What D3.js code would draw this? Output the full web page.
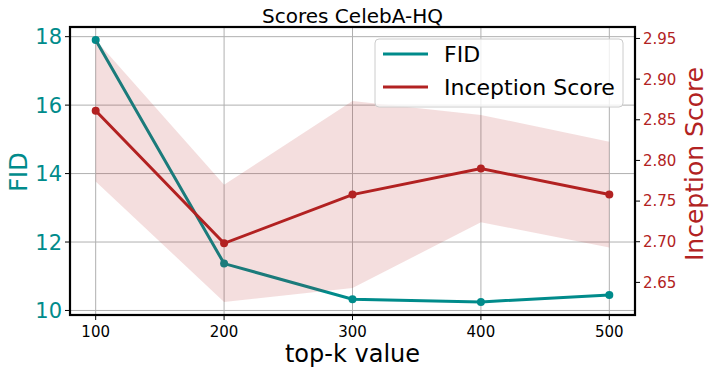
<!DOCTYPE html>
<html lang="en">
<head>
<meta charset="UTF-8">
<title>Scores CelebA-HQ</title>
<script src="https://cdn.jsdelivr.net/npm/d3@7"></script>
<style>
body { margin: 0; background: #fff; font-family: 'DejaVu Sans', sans-serif; }
svg text { font-family: 'DejaVu Sans', sans-serif; }
</style>
</head>
<body>
<svg id="chart" width="712" height="373"></svg>
<script>
// data
const topK = [100, 200, 300, 400, 500];
const fid = [17.9, 11.37, 10.33, 10.25, 10.45];
const inception = [2.861, 2.698, 2.758, 2.790, 2.758];
const inceptionStd = [0.087, 0.072, 0.115, 0.066, 0.065];
const xTicks = [100, 200, 300, 400, 500];
const fidTicks = [10, 12, 14, 16, 18];
const isTicks = [2.65, 2.70, 2.75, 2.80, 2.85, 2.90, 2.95];

const teal = "#008b8b";
const red = "#b22222";

const m = { left: 70, right: 635, top: 27, bottom: 315 };

const svg = d3.select("#chart");

// matplotlib-like 5% padding
function padded(lo, hi) {
    const d = (hi - lo) * 0.05;
    return [lo - d, hi + d];
}

const x = d3.scaleLinear().domain(padded(100, 500)).range([m.left, m.right]);
const yL = d3.scaleLinear().domain(padded(d3.min(fid), d3.max(fid))).range([m.bottom, m.top]);
const bandLo = inception.map((v, i) => v - inceptionStd[i]);
const bandHi = inception.map((v, i) => v + inceptionStd[i]);
const yR = d3.scaleLinear().domain(padded(d3.min(bandLo), d3.max(bandHi))).range([m.bottom, m.top]);

// grid
const grid = svg.append("g").attr("stroke", "#b0b0b0").attr("stroke-width", 1);
xTicks.forEach(t => grid.append("line")
    .attr("x1", x(t)).attr("x2", x(t)).attr("y1", m.top).attr("y2", m.bottom));
fidTicks.forEach(t => grid.append("line")
    .attr("x1", m.left).attr("x2", m.right).attr("y1", yL(t)).attr("y2", yL(t)));

// FID line
const fidLine = d3.line().x((d, i) => x(topK[i])).y(d => yL(d));
svg.append("path").datum(fid)
    .attr("d", fidLine).attr("fill", "none")
    .attr("stroke", teal).attr("stroke-width", 3);
svg.selectAll(".fidpt").data(fid).enter().append("circle")
    .attr("cx", (d, i) => x(topK[i])).attr("cy", d => yL(d))
    .attr("r", 4).attr("fill", teal);

// IS line
const isLine = d3.line().x((d, i) => x(topK[i])).y(d => yR(d));
svg.append("path").datum(inception)
    .attr("d", isLine).attr("fill", "none")
    .attr("stroke", red).attr("stroke-width", 3);
svg.selectAll(".ispt").data(inception).enter().append("circle")
    .attr("cx", (d, i) => x(topK[i])).attr("cy", d => yR(d))
    .attr("r", 4).attr("fill", red);

// std band
const band = d3.area()
    .x((d, i) => x(topK[i]))
    .y0((d, i) => yR(bandLo[i]))
    .y1((d, i) => yR(bandHi[i]));
svg.append("path").datum(inception)
    .attr("d", band).attr("fill", red).attr("fill-opacity", 0.15);

// spines
svg.append("rect")
    .attr("x", m.left).attr("y", m.top)
    .attr("width", m.right - m.left).attr("height", m.bottom - m.top)
    .attr("fill", "none").attr("stroke", "#000").attr("stroke-width", 2.2);

// x axis
const xAxis = svg.append("g");
xTicks.forEach(t => {
    xAxis.append("line").attr("x1", x(t)).attr("x2", x(t))
        .attr("y1", m.bottom).attr("y2", m.bottom + 5).attr("stroke", "#000");
    xAxis.append("text").attr("x", x(t)).attr("y", 337)
        .attr("text-anchor", "middle").attr("font-size", 15).attr("fill", "#000").text(t);
});
svg.append("text").attr("x", (m.left + m.right) / 2).attr("y", 362)
    .attr("text-anchor", "middle").attr("font-size", 24).text("top-k value");

// left axis
const lAxis = svg.append("g");
fidTicks.forEach(t => {
    lAxis.append("line").attr("x1", m.left - 5).attr("x2", m.left)
        .attr("y1", yL(t)).attr("y2", yL(t)).attr("stroke", "#000");
    lAxis.append("text").attr("x", 62).attr("y", yL(t)).attr("dy", "0.36em")
        .attr("text-anchor", "end").attr("font-size", 21).attr("fill", teal).text(t);
});
svg.append("text").attr("transform", "translate(27,172) rotate(-90)")
    .attr("text-anchor", "middle").attr("font-size", 24).attr("fill", teal).text("FID");

// right axis
const rAxis = svg.append("g");
isTicks.forEach(t => {
    rAxis.append("line").attr("x1", m.right).attr("x2", m.right + 5)
        .attr("y1", yR(t)).attr("y2", yR(t)).attr("stroke", "#000");
    rAxis.append("text").attr("x", 643).attr("y", yR(t)).attr("dy", "0.36em")
        .attr("font-size", 15).attr("fill", red).text(d3.format(".2f")(t));
});
svg.append("text").attr("transform", "translate(703,164) rotate(-90)")
    .attr("text-anchor", "middle").attr("font-size", 25).attr("fill", red).text("Inception Score");

// title
svg.append("text").attr("x", (m.left + m.right) / 2).attr("y", 23)
    .attr("text-anchor", "middle").attr("font-size", 20).text("Scores CelebA-HQ");

// legend
const leg = svg.append("g");
leg.append("rect").attr("x", 375).attr("y", 39).attr("width", 248).attr("height", 68)
    .attr("rx", 4).attr("fill", "#fff").attr("fill-opacity", 0.8)
    .attr("stroke", "#ccc").attr("stroke-width", 1);
[["FID", teal, 54], ["Inception Score", red, 87]].forEach(([label, c, ly]) => {
    leg.append("line").attr("x1", 383).attr("x2", 428).attr("y1", ly).attr("y2", ly)
        .attr("stroke", c).attr("stroke-width", 3);
    leg.append("text").attr("x", 444).attr("y", ly).attr("dy", "0.36em")
        .attr("font-size", 22).attr("fill", "#000").text(label);
});
</script>
</body>
</html>
